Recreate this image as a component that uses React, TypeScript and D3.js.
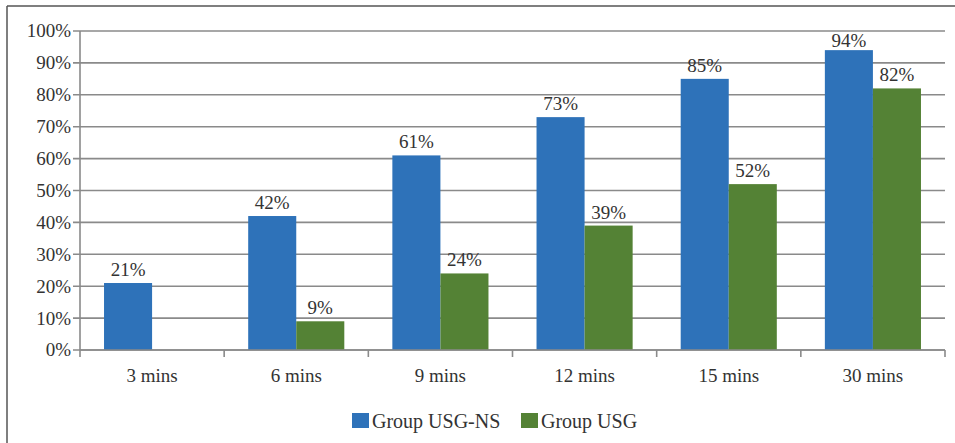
import React from "react";
import * as d3 from "d3";

const categories = ["3 mins", "6 mins", "9 mins", "12 mins", "15 mins", "30 mins"];
const seriesNames = ["Group USG-NS", "Group USG"];
const usgNs = [21, 42, 61, 73, 85, 94];
const usg = [0, 9, 24, 39, 52, 82];
const yTicks = [0, 10, 20, 30, 40, 50, 60, 70, 80, 90, 100];
const colors = ["#2E72B9", "#548235"];

const W = 955;
const H = 443;
const M = { left: 80, right: 10, top: 31, bottom: 93 };
const FONT = "'Liberation Serif', 'DejaVu Serif', serif";
const FS = 19;

export default function App() {
  const x = d3.scaleBand().domain(categories).range([M.left, W - M.right]).paddingInner(0).paddingOuter(0);
  const y = d3.scaleLinear().domain([0, 100]).range([H - M.bottom, M.top]);
  const bw = x.bandwidth();
  const barW = bw / 3;
  const series = [usgNs, usg];
  const textColor = "#333";
  const grid = "#8a8a8a";

  return (
    <svg width={W} height={H} style={{ position: "fixed", left: 0, top: 0, background: "#fff" }}>
      <rect x={0} y={0} width={W} height={H} fill="#fff" />
      <line x1={7} y1={6} x2={W} y2={6} stroke="#555" strokeWidth={1.5} />
      <line x1={7} y1={6} x2={7} y2={H} stroke="#555" strokeWidth={1.5} />
      {yTicks.map((t) => (
        <g key={t}>
          <line x1={M.left - 7} x2={W - M.right} y1={y(t)} y2={y(t)} stroke={grid} strokeWidth={1.6} />
          <text x={M.left - 9} y={y(t)} dy="0.34em" textAnchor="end" fontFamily={FONT} fontSize={FS} fill={textColor}>
            {t}%
          </text>
        </g>
      ))}
      <line x1={M.left} x2={M.left} y1={M.top} y2={y(0) + 7} stroke={grid} strokeWidth={1.6} />
      {categories.map((c, i) => (
        <line key={"t" + i} x1={x(c)! + bw} x2={x(c)! + bw} y1={y(0)} y2={y(0) + 7} stroke={grid} strokeWidth={1.6} />
      ))}
      {categories.map((c, i) =>
        series.map((s, si) => {
          const bx = x(c)! + bw / 6 + si * barW;
          const v = s[i];
          return (
            <g key={c + si}>
              {v > 0 && <rect x={bx} y={y(v)} width={barW} height={y(0) - y(v)} fill={colors[si]} />}
              {v > 0 && (
                <text
                  x={bx + barW / 2}
                  y={Math.max(y(v) - 7, M.top + 16)}
                  textAnchor="middle"
                  fontFamily={FONT}
                  fontSize={FS}
                  fill={textColor}
                >
                  {v}%
                </text>
              )}
            </g>
          );
        })
      )}
      <line x1={M.left} x2={W - M.right} y1={y(0)} y2={y(0)} stroke={grid} strokeWidth={1.6} />
      {categories.map((c) => (
        <text key={"l" + c} x={x(c)! + bw / 2} y={y(0) + 32} textAnchor="middle" fontFamily={FONT} fontSize={FS} fill={textColor}>
          {c}
        </text>
      ))}
      {(() => {
        const starts = [352, 521];
        return seriesNames.map((n, i) => (
          <g key={n}>
            <rect x={starts[i]} y={413} width={17} height={15} fill={colors[i]} />
            <text x={starts[i] + 20} y={428} fontFamily={FONT} fontSize={FS + 1} fill={textColor}>
              {n}
            </text>
          </g>
        ));
      })()}
    </svg>
  );
}
